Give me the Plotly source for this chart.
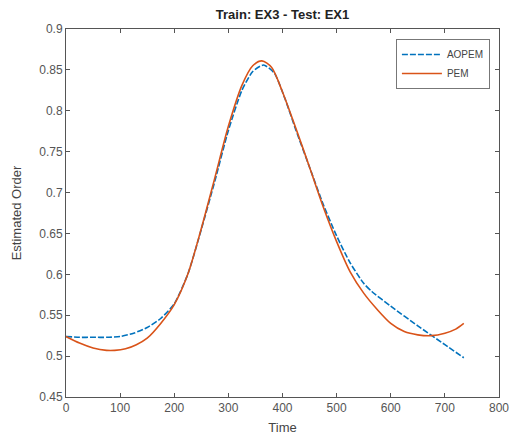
import plotly.graph_objects as go

# AOPEM series
aopem_x = [0, 25, 50, 75, 100, 125, 150, 175, 200, 225, 250, 275, 300, 325, 345, 365, 385, 405, 425, 450, 475, 500, 525, 550, 565, 600, 650, 700, 735]
aopem_y = [0.524, 0.523, 0.523, 0.523, 0.524, 0.528, 0.535, 0.546, 0.564, 0.600, 0.655, 0.714, 0.776, 0.825, 0.848, 0.856, 0.846, 0.814, 0.776, 0.731, 0.686, 0.647, 0.614, 0.589, 0.579, 0.561, 0.537, 0.514, 0.498]

# PEM series
pem_x = [0, 25, 50, 75, 90, 110, 130, 150, 175, 200, 225, 250, 275, 300, 325, 345, 362, 380, 400, 425, 450, 475, 500, 525, 550, 575, 600, 625, 650, 675, 700, 720, 735]
pem_y = [0.524, 0.516, 0.510, 0.507, 0.507, 0.509, 0.514, 0.522, 0.540, 0.563, 0.600, 0.656, 0.718, 0.781, 0.831, 0.855, 0.861, 0.853, 0.823, 0.778, 0.731, 0.683, 0.640, 0.603, 0.577, 0.557, 0.540, 0.530, 0.526, 0.525, 0.528, 0.533, 0.540]

x_ticks = [0, 100, 200, 300, 400, 500, 600, 700, 800]
y_ticks = [0.45, 0.5, 0.55, 0.6, 0.65, 0.7, 0.75, 0.8, 0.85, 0.9]
y_tick_text = ["0.45", "0.5", "0.55", "0.6", "0.65", "0.7", "0.75", "0.8", "0.85", "0.9"]

title_text = "Train: EX3 - Test: EX1"
x_label = "Time"
y_label = "Estimated Order"

FONT = "Liberation Sans, Arial"

fig = go.Figure()
fig.add_trace(go.Scatter(x=aopem_x, y=aopem_y, mode="lines", name="AOPEM",
                         line=dict(color="#0072BD", width=1.6, dash="6px,2px", shape="spline", smoothing=0.6)))
fig.add_trace(go.Scatter(x=pem_x, y=pem_y, mode="lines", name="PEM",
                         line=dict(color="#D95319", width=1.6, shape="spline", smoothing=0.8)))

axis_common = dict(showgrid=False, zeroline=False, showline=True, linecolor="#555555",
                   linewidth=1, mirror="ticks", ticks="inside", ticklen=4, automargin=False,
                   tickcolor="#555555", tickfont=dict(family=FONT, size=12, color="#555555"))

fig.update_xaxes(range=[0, 800], tickvals=x_ticks, ticktext=[str(v) for v in x_ticks],
                 title=dict(text=x_label, font=dict(family=FONT, size=13, color="#444444"), standoff=8),
                 **axis_common)
fig.update_yaxes(range=[0.45, 0.9], tickvals=y_ticks, ticktext=y_tick_text,
                 title=dict(text=y_label, font=dict(family=FONT, size=13, color="#444444"), standoff=14),
                 **axis_common)

fig.update_layout(
    width=517, height=441,
    margin=dict(l=66, r=18, t=29, b=44),
    paper_bgcolor="white", plot_bgcolor="white",
    title=dict(text="<b>" + title_text + "</b>", x=0.5465, xanchor="center", y=1 - 14 / 441, yanchor="middle",
               yref="container", font=dict(family=FONT, size=13, color="#222222")),
    legend=dict(x=0.979, xanchor="right", y=0.973, yanchor="top", bordercolor="#777777", borderwidth=1,
                bgcolor="white", font=dict(family=FONT, size=10, color="#444444"),
                tracegroupgap=0, itemwidth=40),
    showlegend=True,
)

fig.write_html("out.html")
